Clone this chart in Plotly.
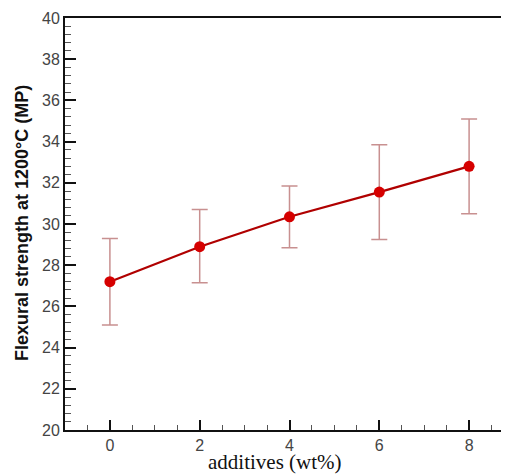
import plotly.graph_objects as go

additives = [0, 2, 4, 6, 8]
strength = [27.2, 28.9, 30.35, 31.55, 32.8]
err_plus = [2.1, 1.8, 1.5, 2.3, 2.3]
err_minus = [2.1, 1.75, 1.5, 2.3, 2.3]
y_ticks = list(range(20, 41, 2))
x_ticks = [0, 2, 4, 6, 8]

# page body has an 8px default margin; work in page pixels and convert
OFF = 8
W, H = 517 - OFF, 475 - OFF
L, T = 65 - OFF, 18 - OFF
B = H + OFF - 430
pw, ph = W - L, H - T - B
PX_PER_UNIT = 44.9
X_MIN = -1.0
X_MAX = X_MIN + pw / PX_PER_UNIT


def px_x(x):
    return (x - OFF - L) / pw


def px_y(y):
    return (H - B - (y - OFF)) / ph


fig = go.Figure()
fig.add_trace(go.Scatter(
    x=additives, y=strength, mode="lines+markers",
    line=dict(color="#b00000", width=2.2),
    marker=dict(color="#d60000", size=11),
    error_y=dict(type="data", symmetric=False, array=err_plus, arrayminus=err_minus,
                 color="#c89090", thickness=1.5, width=8),
    showlegend=False,
))

fig.update_layout(
    width=W, height=H,
    margin=dict(l=L, r=0, t=T, b=B, pad=0),
    plot_bgcolor="white", paper_bgcolor="white",
    font=dict(family="Liberation Sans, Arial", size=16, color="#444444"),
    xaxis=dict(range=[X_MIN, X_MAX], tickvals=x_ticks, ticks="inside", ticklen=10, tickwidth=2,
               tickcolor="#111111", showline=True, linecolor="#111111", linewidth=2, mirror=True,
               showgrid=False, zeroline=False,
               minor=dict(dtick=0.5, tick0=0, ticks="inside", ticklen=5, tickwidth=1, tickcolor="#555555")),
    yaxis=dict(range=[20, 40], tickvals=y_ticks, ticks="inside", ticklen=11, tickwidth=2,
               tickcolor="#111111", showline=True, linecolor="#111111", linewidth=2,
               showgrid=False, zeroline=False,
               minor=dict(dtick=0.4, tick0=20, ticks="inside", ticklen=6, tickwidth=1, tickcolor="#555555")),
    annotations=[
        dict(text="additives (wt%)", x=px_x(275), y=px_y(462), xref="paper", yref="paper",
             xanchor="center", yanchor="middle", showarrow=False,
             font=dict(family="Liberation Serif, Times New Roman", size=21, color="#111111")),
        dict(text="<b>Flexural strength at 1200°C (MP)</b>", textangle=-90, showarrow=False,
             xref="paper", yref="paper", x=px_x(22), y=px_y(223), xanchor="center", yanchor="middle",
             font=dict(family="Liberation Sans, Arial", size=18, color="#111111")),
    ],
)

fig.write_html("out.html")
